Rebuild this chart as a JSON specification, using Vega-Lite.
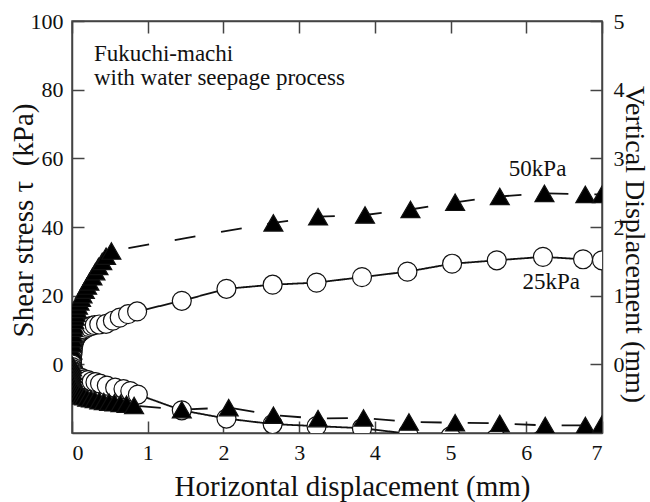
{
  "$schema": "https://vega.github.io/schema/vega-lite/v6.json",
  "width": 530,
  "height": 412,
  "autosize": {"type": "none"},
  "padding": {"left": 72, "top": 21, "right": 48, "bottom": 69},
  "background": "white",
  "datasets": {
    "tests": [
      {"q": "tau", "load": "25kPa", "x": 0, "y": 0},
      {"q": "tau", "load": "25kPa", "x": 0.003, "y": 1.5},
      {"q": "tau", "load": "25kPa", "x": 0.006, "y": 3},
      {"q": "tau", "load": "25kPa", "x": 0.01, "y": 4.2},
      {"q": "tau", "load": "25kPa", "x": 0.015, "y": 5.2},
      {"q": "tau", "load": "25kPa", "x": 0.02, "y": 6},
      {"q": "tau", "load": "25kPa", "x": 0.03, "y": 6.8},
      {"q": "tau", "load": "25kPa", "x": 0.04, "y": 7.4},
      {"q": "tau", "load": "25kPa", "x": 0.055, "y": 8},
      {"q": "tau", "load": "25kPa", "x": 0.07, "y": 8.5},
      {"q": "tau", "load": "25kPa", "x": 0.09, "y": 9},
      {"q": "tau", "load": "25kPa", "x": 0.11, "y": 9.4},
      {"q": "tau", "load": "25kPa", "x": 0.13, "y": 9.8},
      {"q": "tau", "load": "25kPa", "x": 0.16, "y": 10.2},
      {"q": "tau", "load": "25kPa", "x": 0.19, "y": 10.6},
      {"q": "tau", "load": "25kPa", "x": 0.22, "y": 10.9},
      {"q": "tau", "load": "25kPa", "x": 0.26, "y": 11.2},
      {"q": "tau", "load": "25kPa", "x": 0.3, "y": 11.4},
      {"q": "tau", "load": "25kPa", "x": 0.36, "y": 11.6},
      {"q": "tau", "load": "25kPa", "x": 0.45, "y": 11.8},
      {"q": "tau", "load": "25kPa", "x": 0.54, "y": 12.7},
      {"q": "tau", "load": "25kPa", "x": 0.63, "y": 13.6},
      {"q": "tau", "load": "25kPa", "x": 0.74, "y": 14.6},
      {"q": "tau", "load": "25kPa", "x": 0.86, "y": 15.4},
      {"q": "tau", "load": "25kPa", "x": 1.45, "y": 18.5},
      {"q": "tau", "load": "25kPa", "x": 2.04, "y": 22},
      {"q": "tau", "load": "25kPa", "x": 2.65, "y": 23.2},
      {"q": "tau", "load": "25kPa", "x": 3.23, "y": 23.8},
      {"q": "tau", "load": "25kPa", "x": 3.83, "y": 25.4},
      {"q": "tau", "load": "25kPa", "x": 4.43, "y": 27},
      {"q": "tau", "load": "25kPa", "x": 5.02, "y": 29.3},
      {"q": "tau", "load": "25kPa", "x": 5.61, "y": 30.3},
      {"q": "tau", "load": "25kPa", "x": 6.22, "y": 31.3},
      {"q": "tau", "load": "25kPa", "x": 6.75, "y": 30.6},
      {"q": "tau", "load": "25kPa", "x": 7.0, "y": 30.3},

      {"q": "tau", "load": "50kPa", "x": 0, "y": 0},
      {"q": "tau", "load": "50kPa", "x": 0.002, "y": 2},
      {"q": "tau", "load": "50kPa", "x": 0.004, "y": 4},
      {"q": "tau", "load": "50kPa", "x": 0.006, "y": 6},
      {"q": "tau", "load": "50kPa", "x": 0.008, "y": 7.5},
      {"q": "tau", "load": "50kPa", "x": 0.01, "y": 9},
      {"q": "tau", "load": "50kPa", "x": 0.015, "y": 10.5},
      {"q": "tau", "load": "50kPa", "x": 0.02, "y": 11.5},
      {"q": "tau", "load": "50kPa", "x": 0.03, "y": 12.8},
      {"q": "tau", "load": "50kPa", "x": 0.04, "y": 13.8},
      {"q": "tau", "load": "50kPa", "x": 0.05, "y": 14.8},
      {"q": "tau", "load": "50kPa", "x": 0.065, "y": 16},
      {"q": "tau", "load": "50kPa", "x": 0.08, "y": 17},
      {"q": "tau", "load": "50kPa", "x": 0.1, "y": 18.2},
      {"q": "tau", "load": "50kPa", "x": 0.12, "y": 19.3},
      {"q": "tau", "load": "50kPa", "x": 0.14, "y": 20.3},
      {"q": "tau", "load": "50kPa", "x": 0.17, "y": 21.6},
      {"q": "tau", "load": "50kPa", "x": 0.2, "y": 22.8},
      {"q": "tau", "load": "50kPa", "x": 0.23, "y": 24},
      {"q": "tau", "load": "50kPa", "x": 0.27, "y": 25.5},
      {"q": "tau", "load": "50kPa", "x": 0.31, "y": 27},
      {"q": "tau", "load": "50kPa", "x": 0.35, "y": 28.5},
      {"q": "tau", "load": "50kPa", "x": 0.4, "y": 30},
      {"q": "tau", "load": "50kPa", "x": 0.45, "y": 31.5},
      {"q": "tau", "load": "50kPa", "x": 0.52, "y": 33},
      {"q": "tau", "load": "50kPa", "x": 2.66, "y": 41.2},
      {"q": "tau", "load": "50kPa", "x": 3.25, "y": 43},
      {"q": "tau", "load": "50kPa", "x": 3.87, "y": 43.5},
      {"q": "tau", "load": "50kPa", "x": 4.47, "y": 45.1},
      {"q": "tau", "load": "50kPa", "x": 5.06, "y": 47.2},
      {"q": "tau", "load": "50kPa", "x": 5.65, "y": 48.9},
      {"q": "tau", "load": "50kPa", "x": 6.24, "y": 49.8},
      {"q": "tau", "load": "50kPa", "x": 6.78, "y": 49.5},
      {"q": "tau", "load": "50kPa", "x": 7.0, "y": 49.5},

      {"q": "v", "load": "25kPa", "x": 0, "y": 0},
      {"q": "v", "load": "25kPa", "x": 0.005, "y": -0.04},
      {"q": "v", "load": "25kPa", "x": 0.01, "y": -0.07},
      {"q": "v", "load": "25kPa", "x": 0.02, "y": -0.1},
      {"q": "v", "load": "25kPa", "x": 0.03, "y": -0.12},
      {"q": "v", "load": "25kPa", "x": 0.05, "y": -0.15},
      {"q": "v", "load": "25kPa", "x": 0.07, "y": -0.17},
      {"q": "v", "load": "25kPa", "x": 0.1, "y": -0.19},
      {"q": "v", "load": "25kPa", "x": 0.13, "y": -0.2},
      {"q": "v", "load": "25kPa", "x": 0.17, "y": -0.22},
      {"q": "v", "load": "25kPa", "x": 0.21, "y": -0.23},
      {"q": "v", "load": "25kPa", "x": 0.26, "y": -0.25},
      {"q": "v", "load": "25kPa", "x": 0.31, "y": -0.26},
      {"q": "v", "load": "25kPa", "x": 0.37, "y": -0.28},
      {"q": "v", "load": "25kPa", "x": 0.46, "y": -0.31},
      {"q": "v", "load": "25kPa", "x": 0.57, "y": -0.34},
      {"q": "v", "load": "25kPa", "x": 0.68, "y": -0.36},
      {"q": "v", "load": "25kPa", "x": 0.77, "y": -0.39},
      {"q": "v", "load": "25kPa", "x": 0.87, "y": -0.44},
      {"q": "v", "load": "25kPa", "x": 1.45, "y": -0.67},
      {"q": "v", "load": "25kPa", "x": 2.04, "y": -0.79},
      {"q": "v", "load": "25kPa", "x": 2.65, "y": -0.87},
      {"q": "v", "load": "25kPa", "x": 3.23, "y": -0.9},
      {"q": "v", "load": "25kPa", "x": 3.83, "y": -0.93},
      {"q": "v", "load": "25kPa", "x": 4.44, "y": -1.01},
      {"q": "v", "load": "25kPa", "x": 5.0, "y": -1.05},
      {"q": "v", "load": "25kPa", "x": 5.6, "y": -1.08},
      {"q": "v", "load": "25kPa", "x": 6.2, "y": -1.1},
      {"q": "v", "load": "25kPa", "x": 6.75, "y": -1.11},
      {"q": "v", "load": "25kPa", "x": 7.0, "y": -1.12},

      {"q": "v", "load": "50kPa", "x": 0, "y": 0},
      {"q": "v", "load": "50kPa", "x": 0.002, "y": -0.05},
      {"q": "v", "load": "50kPa", "x": 0.004, "y": -0.1},
      {"q": "v", "load": "50kPa", "x": 0.007, "y": -0.15},
      {"q": "v", "load": "50kPa", "x": 0.01, "y": -0.2},
      {"q": "v", "load": "50kPa", "x": 0.015, "y": -0.25},
      {"q": "v", "load": "50kPa", "x": 0.02, "y": -0.29},
      {"q": "v", "load": "50kPa", "x": 0.03, "y": -0.33},
      {"q": "v", "load": "50kPa", "x": 0.045, "y": -0.37},
      {"q": "v", "load": "50kPa", "x": 0.06, "y": -0.4},
      {"q": "v", "load": "50kPa", "x": 0.08, "y": -0.42},
      {"q": "v", "load": "50kPa", "x": 0.1, "y": -0.44},
      {"q": "v", "load": "50kPa", "x": 0.13, "y": -0.46},
      {"q": "v", "load": "50kPa", "x": 0.16, "y": -0.47},
      {"q": "v", "load": "50kPa", "x": 0.2, "y": -0.49},
      {"q": "v", "load": "50kPa", "x": 0.25, "y": -0.5},
      {"q": "v", "load": "50kPa", "x": 0.3, "y": -0.51},
      {"q": "v", "load": "50kPa", "x": 0.36, "y": -0.53},
      {"q": "v", "load": "50kPa", "x": 0.42, "y": -0.54},
      {"q": "v", "load": "50kPa", "x": 0.49, "y": -0.55},
      {"q": "v", "load": "50kPa", "x": 0.56, "y": -0.56},
      {"q": "v", "load": "50kPa", "x": 0.64, "y": -0.57},
      {"q": "v", "load": "50kPa", "x": 0.72, "y": -0.58},
      {"q": "v", "load": "50kPa", "x": 0.82, "y": -0.6},
      {"q": "v", "load": "50kPa", "x": 1.45, "y": -0.66},
      {"q": "v", "load": "50kPa", "x": 2.07, "y": -0.63},
      {"q": "v", "load": "50kPa", "x": 2.66, "y": -0.74},
      {"q": "v", "load": "50kPa", "x": 3.25, "y": -0.79},
      {"q": "v", "load": "50kPa", "x": 3.85, "y": -0.78},
      {"q": "v", "load": "50kPa", "x": 4.45, "y": -0.84},
      {"q": "v", "load": "50kPa", "x": 5.06, "y": -0.85},
      {"q": "v", "load": "50kPa", "x": 5.65, "y": -0.86},
      {"q": "v", "load": "50kPa", "x": 6.25, "y": -0.89},
      {"q": "v", "load": "50kPa", "x": 6.78, "y": -0.89},
      {"q": "v", "load": "50kPa", "x": 7.0, "y": -0.87}
    ]
  },
  "config": {
    "view": {"stroke": "#444", "strokeWidth": 1.5},
    "axis": {
      "grid": false,
      "domainColor": "#444",
      "domainWidth": 1.5,
      "tickColor": "#444",
      "tickWidth": 1.5,
      "tickSize": -12,
      "labelFont": "Liberation Serif",
      "labelFontSize": 22,
      "labelColor": "#111",
      "titleFont": "Liberation Serif",
      "titleFontSize": 29,
      "titleFontWeight": "normal",
      "titleColor": "#111"
    }
  },
  "layer": [
    {
      "data": {"name": "tests"},
      "transform": [{"filter": "datum.q === 'tau'"}],
      "encoding": {
        "x": {
          "field": "x", "type": "quantitative",
          "scale": {"domain": [0, 7], "nice": false, "zero": false},
          "axis": {
            "orient": "bottom", "values": [0, 1, 2, 3, 4, 5, 6, 7],
            "labelPadding": 21,
            "title": "Horizontal displacement (mm)",
            "titleX": 280, "titleY": 62,
            "titleAlign": "center", "titleBaseline": "alphabetic"
          }
        },
        "y": {
          "field": "y", "type": "quantitative",
          "scale": {"domain": [-20, 100], "nice": false, "zero": false},
          "axis": {
            "orient": "left", "values": [0, 20, 40, 60, 80, 100],
            "labelPadding": 21,
            "title": "Shear stress τ\u00a0 (kPa)",
            "titleAngle": -90, "titleX": -40, "titleY": 199,
            "titleAlign": "center", "titleBaseline": "alphabetic"
          }
        }
      },
      "layer": [
        {
          "mark": {"type": "line", "color": "#111", "strokeWidth": 1.8, "clip": true},
          "encoding": {
            "strokeDash": {
              "field": "load", "type": "nominal",
              "scale": {"domain": ["25kPa", "50kPa"], "range": [[1, 0], [21, 26]]},
              "legend": null
            }
          }
        },
        {
          "mark": {"type": "point", "size": 360, "stroke": "#111", "strokeWidth": 1.2, "opacity": 1, "filled": false, "clip": true},
          "encoding": {
            "shape": {
              "field": "load", "type": "nominal",
              "scale": {"domain": ["25kPa", "50kPa"], "range": ["circle", "triangle-up"]},
              "legend": null
            },
            "fill": {
              "field": "load", "type": "nominal",
              "scale": {"domain": ["25kPa", "50kPa"], "range": ["white", "black"]},
              "legend": null
            }
          }
        }
      ]
    },
    {
      "data": {"name": "tests"},
      "transform": [{"filter": "datum.q === 'v'"}],
      "encoding": {
        "x": {
          "field": "x", "type": "quantitative",
          "scale": {"domain": [0, 7], "nice": false, "zero": false},
          "axis": {"orient": "top", "values": [0, 1, 2, 3, 4, 5, 6, 7], "labels": false, "title": null}
        },
        "y": {
          "field": "y", "type": "quantitative",
          "scale": {"domain": [-1, 5], "nice": false, "zero": false},
          "axis": {
            "orient": "right", "values": [0, 1, 2, 3, 4, 5],
            "labelPadding": 23,
            "title": "Vertical Displacement (mm)",
            "titleFontSize": 28,
            "titleAngle": 90, "titleX": 23, "titleY": 223,
            "titleAlign": "center", "titleBaseline": "alphabetic"
          }
        }
      },
      "layer": [
        {
          "mark": {"type": "line", "color": "#111", "strokeWidth": 1.8, "clip": true},
          "encoding": {
            "strokeDash": {
              "field": "load", "type": "nominal",
              "scale": {"domain": ["25kPa", "50kPa"], "range": [[1, 0], [21, 26]]},
              "legend": null
            }
          }
        },
        {
          "mark": {"type": "point", "size": 360, "stroke": "#111", "strokeWidth": 1.2, "opacity": 1, "filled": false, "clip": true},
          "encoding": {
            "shape": {
              "field": "load", "type": "nominal",
              "scale": {"domain": ["25kPa", "50kPa"], "range": ["circle", "triangle-up"]},
              "legend": null
            },
            "fill": {
              "field": "load", "type": "nominal",
              "scale": {"domain": ["25kPa", "50kPa"], "range": ["white", "black"]},
              "legend": null
            }
          }
        }
      ]
    },
    {
      "data": {"values": [{}]},
      "encoding": {
        "y": {"type": "quantitative", "scale": {"domain": [-20, 100], "nice": false, "zero": false}, "axis": null}
      },
      "layer": [
        {
          "mark": {"type": "text", "align": "left", "baseline": "alphabetic", "font": "Liberation Serif", "fontSize": 23, "lineHeight": 24, "color": "#111"},
          "encoding": {
            "x": {"datum": 0.29, "type": "quantitative", "axis": null},
            "y": {"datum": 88.3, "type": "quantitative", "scale": {"domain": [-20, 100], "nice": false, "zero": false}, "axis": null},
            "text": {"value": ["Fukuchi-machi", "with water seepage process"]}
          }
        },
        {
          "mark": {"type": "text", "align": "left", "baseline": "alphabetic", "font": "Liberation Serif", "fontSize": 23, "color": "#111"},
          "encoding": {
            "x": {"datum": 5.77, "type": "quantitative", "axis": null},
            "y": {"datum": 55, "type": "quantitative", "scale": {"domain": [-20, 100], "nice": false, "zero": false}, "axis": null},
            "text": {"value": "50kPa"}
          }
        },
        {
          "mark": {"type": "text", "align": "left", "baseline": "alphabetic", "font": "Liberation Serif", "fontSize": 23, "color": "#111"},
          "encoding": {
            "x": {"datum": 5.95, "type": "quantitative", "axis": null},
            "y": {"datum": 22, "type": "quantitative", "scale": {"domain": [-20, 100], "nice": false, "zero": false}, "axis": null},
            "text": {"value": "25kPa"}
          }
        }
      ]
    }
  ],
  "resolve": {"scale": {"y": "independent"}, "axis": {"x": "independent", "y": "independent"}}
}
